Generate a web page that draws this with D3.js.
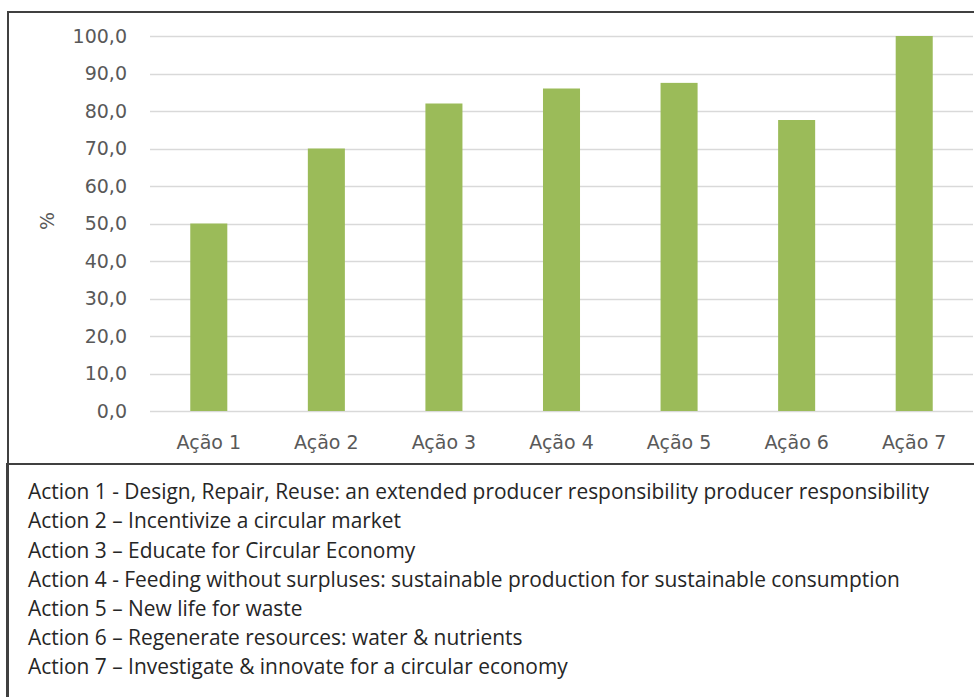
<!DOCTYPE html>
<html>
<head>
<meta charset="utf-8">
<script src="https://cdn.jsdelivr.net/npm/d3@7"></script>
<style>
  body { margin: 0; background: #fff; }
  svg { display: block; font-family: "Open Sans", "Noto Sans", sans-serif; }
</style>
</head>
<body>
<div id="chart"></div>
<script>
// data
var categories = ["Ação 1", "Ação 2", "Ação 3", "Ação 4", "Ação 5", "Ação 6", "Ação 7"];
var values = [50.0, 70.0, 82.0, 86.0, 87.5, 77.6, 100.0];
var yTicks = [0, 10, 20, 30, 40, 50, 60, 70, 80, 90, 100];
var notes = [
  "Action 1 - Design, Repair, Reuse: an extended producer responsibility producer responsibility",
  "Action 2 – Incentivize a circular market",
  "Action 3 – Educate for Circular Economy",
  "Action 4 - Feeding without surpluses: sustainable production for sustainable consumption",
  "Action 5 – New life for waste",
  "Action 6 – Regenerate resources: water & nutrients",
  "Action 7 – Investigate & innovate for a circular economy"
];

var W = 974, H = 697;
var axisFont = "'DejaVu Sans', Verdana, sans-serif";
var svg = d3.select("#chart").append("svg")
    .attr("width", W)
    .attr("height", H);

// frames
svg.append("path")
    .attr("d", "M8,697 V12 H974")
    .attr("fill", "none")
    .attr("stroke", "#404040")
    .attr("stroke-width", 2);
svg.append("path")
    .attr("d", "M7,697 V464 H974")
    .attr("fill", "none")
    .attr("stroke", "#404040")
    .attr("stroke-width", 2);

var x = d3.scaleBand().domain(categories).range([150, 973]).paddingInner(0.685).paddingOuter(0.3425);
var y = d3.scaleLinear().domain([0, 100]).range([411, 36]);

// gridlines
svg.append("g")
    .selectAll("line")
    .data(yTicks)
    .join("line")
    .attr("x1", 150)
    .attr("x2", 973)
    .attr("y1", function(d) { return Math.round(y(d)) + 0.5; })
    .attr("y2", function(d) { return Math.round(y(d)) + 0.5; })
    .attr("stroke", "#d9d9d9")
    .attr("stroke-width", 1.5);

// y tick labels
svg.append("g")
    .selectAll("text")
    .data(yTicks)
    .join("text")
    .attr("x", 127)
    .attr("y", function(d) { return y(d); })
    .attr("dy", "0.35em")
    .attr("text-anchor", "end")
    .attr("font-family", axisFont)
    .attr("font-size", 19)
    .attr("fill", "#595959")
    .text(function(d) { return d.toFixed(1).replace(".", ","); });

// axis title
svg.append("text")
    .attr("transform", "translate(47,221) rotate(-90)")
    .attr("text-anchor", "middle")
    .attr("dy", "0.35em")
    .attr("font-family", axisFont)
    .attr("font-size", 19)
    .attr("fill", "#595959")
    .text("%");

// bars
svg.append("g")
    .selectAll("rect")
    .data(values)
    .join("rect")
    .attr("x", function(d, i) { return x(categories[i]); })
    .attr("y", function(d) { return y(d); })
    .attr("width", x.bandwidth())
    .attr("height", function(d) { return y(0) - y(d); })
    .attr("fill", "#9bbb59");

// category labels
svg.append("g")
    .selectAll("text")
    .data(categories)
    .join("text")
    .attr("x", function(d) { return x(d) + x.bandwidth() / 2; })
    .attr("y", 442)
    .attr("dy", "0.35em")
    .attr("text-anchor", "middle")
    .attr("font-family", axisFont)
    .attr("font-size", 19)
    .attr("fill", "#595959")
    .text(function(d) { return d; });

// notes below the chart
var noteText = svg.append("g")
    .selectAll("text")
    .data(notes)
    .join("text")
    .attr("x", 28)
    .attr("y", function(d, i) { return 492 + i * 29.1; })
    .attr("dy", "0.35em")
    .attr("font-size", 19)
    .attr("fill", "#262626")
    .text(function(d) { return d; });

// fit font size so the longest line spans like the original
var longest = noteText.nodes()[0].getComputedTextLength();
var fs = 19 * 902 / longest;
noteText.attr("font-size", fs);
</script>
</body>
</html>
